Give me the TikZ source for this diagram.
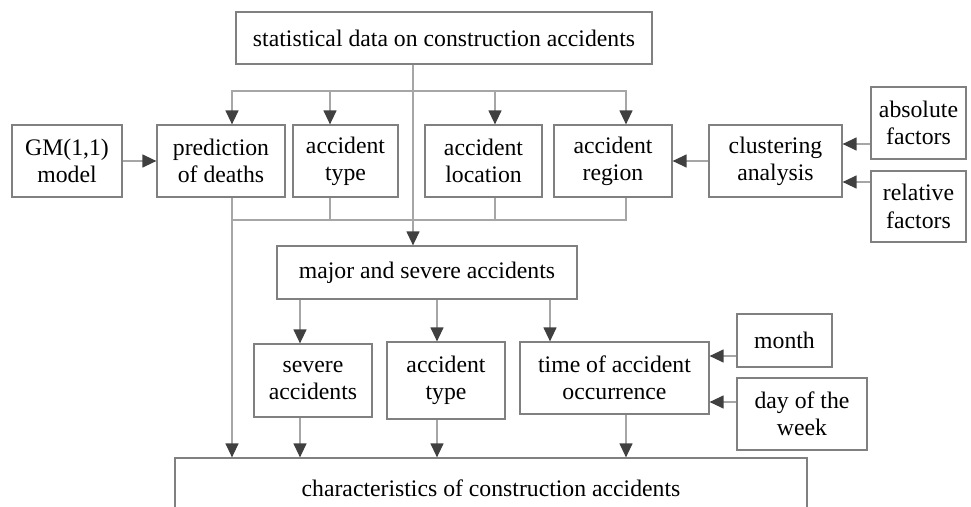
\documentclass[tikz,border=0pt]{standalone}
\usepackage{fontspec}
\setmainfont{Liberation Serif}
\usetikzlibrary{arrows.meta}

\definecolor{linegray}{HTML}{A6A6A6}
\definecolor{boxgray}{HTML}{808080}
\definecolor{tipgray}{HTML}{404040}

\tikzset{
  box/.style={draw=boxgray, line width=0.7pt, rectangle, align=center, inner sep=0pt,
              font=\fontsize{13.5}{15.5}\selectfont},
  link/.style={draw=linegray, line width=0.7pt},
  arr/.style={link, -{Triangle[length=0.28cm, width=0.26cm, color=tipgray]}}
}

\begin{document}
\begin{tikzpicture}[x=0.02cm, y=-0.02cm]

    \useasboundingbox (0,0) rectangle (971,507);
    \clip (0,0) rectangle (971,507);

    % Top 
    % ---
    \node[box, minimum width=8.32cm, minimum height=1.04cm] (data) at (444,38) {statistical data on construction accidents};

    % 1st Row 
    % -------
    \node[box, minimum width=2.2cm,  minimum height=1.44cm] (gm)     at (67,161)    {GM(1,1)\\model};
    \node[box, minimum width=2.56cm, minimum height=1.44cm] (deaths) at (221,161)   {prediction\\of deaths};
    \node[box, minimum width=2.1cm,  minimum height=1.44cm] (type)   at (345.5,161) {accident\\type};
    \node[box, minimum width=2.34cm, minimum height=1.44cm] (loc)    at (483.5,161) {accident\\location};
    \node[box, minimum width=2.36cm, minimum height=1.44cm] (region) at (613,161)   {accident\\region};
    \node[box, minimum width=2.66cm, minimum height=1.44cm] (clust)  at (775.5,161) {clustering\\analysis};
    \node[box, minimum width=1.9cm,  minimum height=1.44cm] (abs)    at (918.5,123) {absolute\\factors};
    \node[box, minimum width=1.9cm,  minimum height=1.42cm] (rel)    at (918.5,206.5) {relative\\factors};

    % 2nd Row 
    % -------
    \node[box, minimum width=6cm, minimum height=1.06cm] (major) at (427,272.5) {major and severe accidents};

    % 3rd Row 
    % -------
    \node[box, minimum width=2.36cm, minimum height=1.46cm] (severe) at (313,380.5)   {severe\\accidents};
    \node[box, minimum width=2.36cm, minimum height=1.54cm] (typeb)  at (446,380.5)   {accident\\type};
    \node[box, minimum width=3.78cm, minimum height=1.44cm] (time)   at (614.5,378)   {time of accident\\occurrence};
    \node[box, minimum width=1.9cm,  minimum height=1.06cm] (month)  at (784.5,340.5) {month};
    \node[box, minimum width=2.6cm,  minimum height=1.44cm] (week)   at (802,414)     {day of the\\week};

    % Bottom 
    % ------
    \node[box, minimum width=12.64cm, minimum height=1.2cm] (result) at (491,488) {characteristics of construction accidents};

    % Columns and rows of the connectors 
    % ----------------------------------
    \coordinate (ca) at (232,0);
    \coordinate (cb) at (330,0);
    \coordinate (cm) at (413,0);
    \coordinate (cc) at (495,0);
    \coordinate (cd) at (626,0);
    \coordinate (ce) at (300,0);
    \coordinate (cf) at (437,0);
    \coordinate (cg) at (550,0);
    \coordinate (split) at (413,91);
    \coordinate (merge) at (232,220);
    \coordinate (ra) at (0,144);
    \coordinate (rb) at (0,182);
    \coordinate (rc) at (0,356);
    \coordinate (rd) at (0,402);

    % Draw Paths 
    % ----------
    \draw[arr] (data.south -| cm) -- (major.north -| cm);
    \draw[arr] (split) -| (deaths.north -| ca);
    \draw[arr] (split) -| (region.north -| cd);
    \draw[arr] (split -| cb) -- (type.north -| cb);
    \draw[arr] (split -| cc) -- (loc.north -| cc);

    \draw[link] (type.south -| cb) |- (merge);
    \draw[link] (loc.south -| cc) |- (merge);
    \draw[link] (region.south -| cd) |- (merge);
    \draw[arr] (deaths.south -| ca) -- (result.north -| ca);

    \draw[arr] (gm) -- (deaths);
    \draw[arr] (clust) -- (region);
    \draw[arr] (abs.west |- ra) -- (clust.east |- ra);
    \draw[arr] (rel.west |- rb) -- (clust.east |- rb);

    \draw[arr] (major.south -| ce) -- (severe.north -| ce);
    \draw[arr] (major.south -| cf) -- (typeb.north -| cf);
    \draw[arr] (major.south -| cg) -- (time.north -| cg);

    \draw[arr] (month.west |- rc) -- (time.east |- rc);
    \draw[arr] (week.west |- rd) -- (time.east |- rd);

    \draw[arr] (severe.south -| ce) -- (result.north -| ce);
    \draw[arr] (typeb.south -| cf) -- (result.north -| cf);
    \draw[arr] (time.south -| cd) -- (result.north -| cd);

\end{tikzpicture}
\end{document}
